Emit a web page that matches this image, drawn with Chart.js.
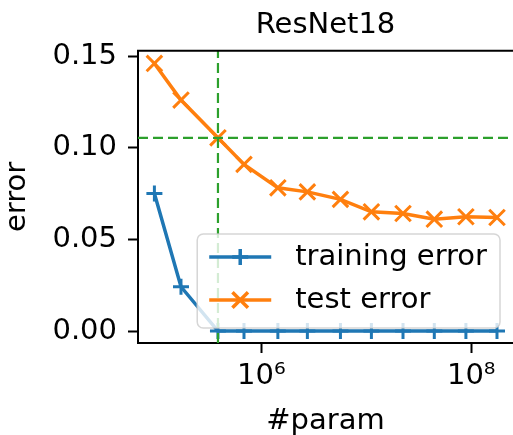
<!DOCTYPE html>
<html>
<head>
<meta charset="utf-8">
<script src="https://cdn.jsdelivr.net/npm/chart.js@4.4.1/dist/chart.umd.min.js"></script>
<style>
  html, body { margin: 0; padding: 0; background: #fff; }
  #wrap { width: 513px; height: 435px; position: relative; overflow: hidden; }
</style>
</head>
<body>
<div id="wrap"><canvas id="chart"></canvas></div>
<script>
// --- values ---
const params = [9.6e4, 1.72e5, 3.87e5, 6.85e5, 1.44e6, 2.75e6, 5.68e6, 1.12e7, 2.24e7, 4.45e7, 8.9e7, 1.76e8];
const trainError = [0.0751, 0.0242, 0, 0, 0, 0, 0, 0, 0, 0, 0, 0];
const testError = [0.1461, 0.1261, 0.1055, 0.0910, 0.0782, 0.0760, 0.0719, 0.0651, 0.0642, 0.0611, 0.0624, 0.0620];
const thresholdParam = 3.87e5;   // vertical dashed line
const thresholdError = 0.1055;   // horizontal dashed line
const xTickValues = [1e6, 1e8];
const xTickLabels = ['10\u2076', '10\u2078'];
const yTickValues = [0, 0.05, 0.10, 0.15];
const xRange = [6.7e4, 2.5e8];
const yRange = [-0.0065, 0.153];
const seriesNames = ['training error', 'test error'];

const BLUE = '#1f77b4', ORANGE = '#ff7f0e', GREEN = '#2ca02c';
const FONT = '"DejaVu Sans", sans-serif';

Chart.defaults.font.family = FONT;
Chart.defaults.font.size = 29;
Chart.defaults.color = '#000';

const toPoints = (ys) => params.map((p, i) => ({ x: p, y: ys[i] }));

// top spine + matplotlib-like legend in the lower right
const legendBox = {
    id: 'legendBox',
    afterDatasetsDraw(chart) {
        const { ctx, chartArea } = chart;
        ctx.save();
        ctx.strokeStyle = '#000';
        ctx.lineWidth = 2;
        ctx.beginPath();
        ctx.moveTo(chartArea.left - 1, chartArea.top);
        ctx.lineTo(chartArea.right, chartArea.top);
        ctx.stroke();

        ctx.font = '29px ' + FONT;
        const textW = Math.max(...seriesNames.map(s => ctx.measureText(s).width));
        const w = 12 + 62 + 24 + textW + 13, h = 94;
        const x0 = chartArea.right - 13 - w, y0 = chartArea.bottom - 15 - h;

        ctx.beginPath();
        ctx.roundRect(x0, y0, w, h, 6);
        ctx.fillStyle = 'rgba(255,255,255,0.8)';
        ctx.fill();
        ctx.strokeStyle = 'rgba(204,204,204,0.8)';
        ctx.lineWidth = 1.5;
        ctx.stroke();

        const rows = [y0 + 23, y0 + 66];
        chart.data.datasets.slice(0, 2).forEach((ds, i) => {
            const y = rows[i];
            ctx.strokeStyle = ds.borderColor;
            ctx.lineWidth = ds.borderWidth;
            ctx.beginPath();
            ctx.moveTo(x0 + 12, y);
            ctx.lineTo(x0 + 74, y);
            ctx.stroke();
            Chart.helpers.drawPoint(ctx, {
                pointStyle: ds.pointStyle, radius: ds.pointRadius, borderWidth: ds.pointBorderWidth, rotation: 0
            }, x0 + 43, y);
            ctx.fillStyle = '#000';
            ctx.textAlign = 'left';
            ctx.textBaseline = 'middle';
            ctx.fillText(seriesNames[i], x0 + 98, y);
        });
        ctx.restore();
    }
};

new Chart(document.getElementById('chart'), {
    type: 'line',
    data: {
        datasets: [
            {
                label: seriesNames[0], data: toPoints(trainError), order: 2,
                borderColor: BLUE, backgroundColor: BLUE, borderWidth: 3.5,
                pointStyle: 'cross', pointRadius: 8, pointBorderWidth: 3, pointBorderColor: BLUE
            },
            {
                label: seriesNames[1], data: toPoints(testError), order: 1,
                borderColor: ORANGE, backgroundColor: ORANGE, borderWidth: 3.5,
                pointStyle: 'crossRot', pointRadius: 11, pointBorderWidth: 3, pointBorderColor: ORANGE
            },
            {
                label: 'threshold x', data: [{ x: thresholdParam, y: yRange[0] }, { x: thresholdParam, y: yRange[1] }],
                order: 0, borderColor: GREEN, borderWidth: 2.2, borderDash: [10, 5], pointRadius: 0
            },
            {
                label: 'threshold y', data: [{ x: xRange[0], y: thresholdError }, { x: xRange[1], y: thresholdError }],
                order: 0, borderColor: GREEN, borderWidth: 2.2, borderDash: [10, 5], pointRadius: 0
            }
        ]
    },
    options: {
        responsive: true,
        maintainAspectRatio: false,
        animation: false,
        events: [],
        layout: { padding: 0, autoPadding: false },
        plugins: {
            legend: { display: false },
            tooltip: { enabled: false },
            title: {
                display: true, text: 'ResNet18', fullSize: false, color: '#000',
                font: { size: 29, weight: 'normal' }, padding: { top: 8, bottom: 8 }
            }
        },
        scales: {
            x: {
                type: 'logarithmic', min: xRange[0], max: xRange[1],
                afterBuildTicks: (s) => { s.ticks = xTickValues.map(v => ({ value: v })); },
                afterFit: (s) => { s.height = 92; s.paddingLeft = 0; s.paddingRight = 0; },
                ticks: { autoSkip: false, maxRotation: 0, padding: 6, callback: (v, i) => xTickLabels[i] },
                grid: { drawOnChartArea: false, tickLength: 10, tickWidth: 2, tickColor: '#000' },
                border: { display: true, color: '#000', width: 2 },
                title: { display: true, text: '#param', font: { size: 29, lineHeight: 0.9 }, padding: 0 }
            },
            y: {
                type: 'linear', min: yRange[0], max: yRange[1],
                afterBuildTicks: (s) => { s.ticks = yTickValues.map(v => ({ value: v })); },
                afterFit: (s) => { s.width = 138; s.paddingTop = 0; s.paddingBottom = 0; },
                ticks: { autoSkip: false, padding: 11, callback: (v) => v.toFixed(2) },
                grid: { drawOnChartArea: false, tickLength: 10, tickWidth: 2, tickColor: '#000' },
                border: { display: true, color: '#000', width: 2 },
                title: { display: true, text: 'error', font: { size: 29 }, padding: 0 }
            }
        }
    },
    plugins: [legendBox]
});
</script>
</body>
</html>
